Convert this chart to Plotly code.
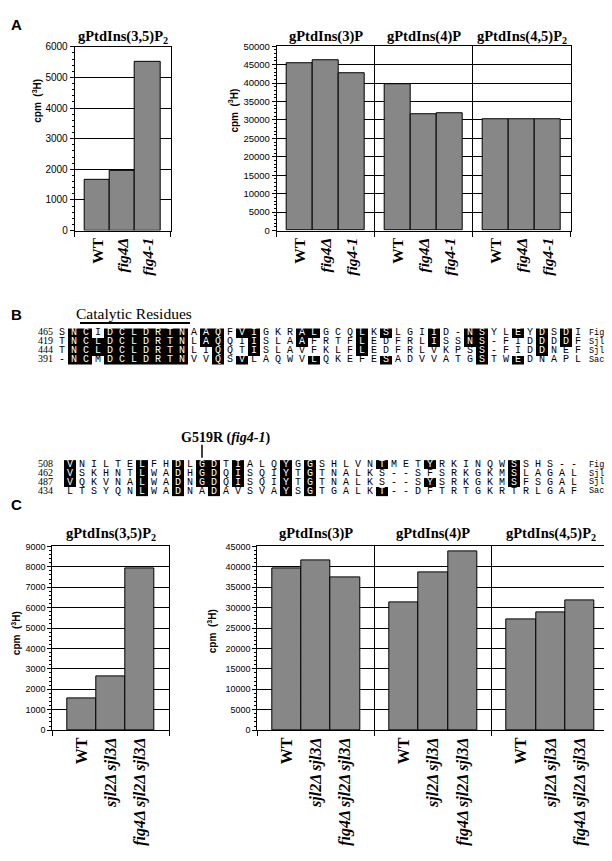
import plotly.graph_objects as go

# page is 612x861; the html body has an 8px margin, so the figure is 604x853
M = 8
W, H = 604, 853

# ---------------- data ----------------
# Panel A
a_strains = ["WT", "fig4Δ", "fig4-1"]
a_pi35p2 = [1650, 1960, 5520]
a_lipids = ["gPtdIns(3)P", "gPtdIns(4)P", "gPtdIns(4,5)P<sub>2</sub>"]
a_pi3p = [45400, 46200, 42800]
a_pi4p = [39700, 31600, 31900]
a_pi45p2 = [30300, 30100, 30100]

# Panel C
c_strains = ["WT", "sjl2Δ sjl3Δ", "fig4Δ sjl2Δ sjl3Δ"]
c_pi35p2 = [1570, 2620, 7900]
c_lipids = ["gPtdIns(3)P", "gPtdIns(4)P", "gPtdIns(4,5)P<sub>2</sub>"]
c_pi3p = [39500, 41500, 37300]
c_pi4p = [31300, 38700, 43700]
c_pi45p2 = [27200, 28900, 31700]

# Panel B (alignment)
seq_names = ["Fig4", "Sjl3", "Sjl2", "Sac1"]
block1_start = [465, 419, 444, 391]
block1_seq = [
    "SNCIDCLDRTNAAQFVIGKRALGCQLKSLGIID-NSYLEYDSDI",
    "TNCLDCLDRTNLAQQIISLAAFRTFLEDFRLISSNS-FIDDDDF",
    "TNCLDCLDRTNLIQQTISLAVFKLFLEDFRLVKPSS-FIDDNEF",
    "-NCMDCLDRTNVVQSVLAQWVLQKEFESADVVATGSTWEDNAPL",
]
block1_hl = [
    [2, 3, 5, 6, 7, 8, 9, 10, 11, 13, 14, 16, 17, 21, 22, 26, 28, 32, 35, 36, 39, 41, 43],
    [2, 3, 4, 5, 6, 7, 8, 9, 10, 11, 13, 14, 17, 21, 26, 32, 35, 36, 41, 43],
    [2, 3, 4, 5, 6, 7, 8, 9, 10, 11, 14, 17, 26, 36, 41],
    [2, 3, 5, 6, 7, 8, 9, 10, 11, 14, 16, 22, 28, 36, 39],
]
block2_start = [508, 462, 487, 434]
block2_seq = [
    "VNILTELFHDLGDTIALQYGGSHLVNTMETYRKINQWSSHS--",
    "VSKHNTLWADHGDQISQIYTGTNALKS--SFSRKGKMSLAGAL",
    "VQKVNALWADNGDQISQIYTGTNALKS--SYSRKGKMSFSGAL",
    "LTSYQNLWADNADAVSVAYSGTGALKT--DFTRTGKRTRLGAF",
]
block2_hl = [
    [1, 7, 10, 12, 13, 15, 19, 21, 27, 31, 38],
    [1, 7, 10, 12, 13, 15, 19, 21, 38],
    [1, 7, 10, 12, 13, 15, 19, 21, 31, 38],
    [7, 10, 13, 19, 21, 27],
]
mutation_col = 12  # G519R column in block 2

# ---------------- layout constants ----------------
BAR_COLOR = "#878787"
SERIF = "Liberation Serif"
SANS = "Liberation Sans"
MONO = "Liberation Mono"


def xd(p0, p1):
    return [(p0 - M) / W, (p1 - M) / W]


def yd(p0, p1):
    return [1 - (p1 - M) / H, 1 - (p0 - M) / H]


def py(p):
    return 1 - (p - M) / H


def px(p):
    return (p - M) / W


def fmt_label(s):
    if s == "WT":
        return "<b>WT</b>"
    return "<b><i>" + s + "</i></b>"


fig = go.Figure()
annotations = []
shapes = []


def add_bar_panel(ax, values_groups, strains, pad, xdom, ydom, ymax, dtick, mdtick,
                  ytick_size, xtick_size):
    ns = len(strains)
    span = ns + 2 * pad
    xs, ys, tv, tt = [], [], [], []
    for g, vals in enumerate(values_groups):
        for i, v in enumerate(vals):
            xs.append(g * span + pad + 0.5 + i)
            ys.append(v)
            tv.append(g * span + pad + 0.5 + i)
            tt.append(fmt_label(strains[i]))
    ng = len(values_groups)
    sfx = "" if ax == 1 else str(ax)
    fig.add_trace(go.Bar(x=xs, y=ys, width=1, marker=dict(color=BAR_COLOR, line=dict(color="black", width=1)),
                         xaxis="x" + sfx, yaxis="y" + sfx, hoverinfo="skip", showlegend=False))
    fig.layout["xaxis" + sfx] = dict(
        domain=xdom, range=[0, ng * span], anchor="y" + sfx, tickmode="array", tickvals=tv, ticktext=tt,
        tickangle=-90, tickfont=dict(family=SERIF, size=xtick_size, color="black"), ticks="",
        showgrid=False, showline=True, mirror=True, linecolor="black", linewidth=1, zeroline=False,
        fixedrange=True,
        minor=dict(tickmode="array", tickvals=[g * span for g in range(ng + 1)], ticks="outside",
                   ticklen=5, tickcolor="black", showgrid=True, gridcolor="black", gridwidth=1),
    )
    fig.layout["yaxis" + sfx] = dict(
        domain=ydom, range=[0, ymax], anchor="x" + sfx, tick0=0, dtick=dtick, ticks="outside", ticklen=4,
        tickcolor="black", showgrid=True, gridcolor="black", gridwidth=1, showline=True, mirror=True,
        linecolor="black", linewidth=1, zeroline=False, fixedrange=True, tickformat="d",
        tickfont=dict(family=SANS, size=ytick_size, color="black"),
        minor=dict(dtick=mdtick, tick0=0, ticks="outside", ticklen=2, tickcolor="black", showgrid=False),
    )
    return span


# Panel A
span_al = add_bar_panel(1, [a_pi35p2], a_strains, 0.41, xd(74.7, 170.5), yd(41.3, 227.7), 6000, 1000, 200,
                        10, 15.5)
span_a = add_bar_panel(2, [a_pi3p, a_pi4p, a_pi45p2], a_strains, 0.4, xd(276.7, 570.7), yd(40.7, 227.7),
                       50000, 5000, 1000, 9.5, 15.5)
# Panel C
span_cl = add_bar_panel(3, [c_pi35p2], c_strains, 0.5, xd(52.3, 169.3), yd(548.0, 734.3), 9000, 1000, 200,
                        9, 16)
span_c = add_bar_panel(4, [c_pi3p, c_pi4p, c_pi45p2], c_strains, 0.5, xd(257.3, 609.3), yd(548.0, 734.3),
                       45000, 5000, 1000, 9, 16)

title_font = dict(family=SERIF, size=14.5, color="black")
annotations.append(dict(text="<b>gPtdIns(3,5)P<sub>2</sub></b>", xref="x", yref="paper", x=span_al / 2,
                        y=py(31), showarrow=False, font=title_font, xanchor="center", yanchor="middle"))
annotations.append(dict(text="<b>gPtdIns(3,5)P<sub>2</sub></b>", xref="x3", yref="paper", x=span_cl / 2,
                        y=py(535), showarrow=False, font=title_font, xanchor="center", yanchor="middle"))
for g, name in enumerate(a_lipids):
    annotations.append(dict(text="<b>" + name + "</b>", xref="x2", yref="paper", x=g * span_a + span_a / 2,
                            y=py(31), showarrow=False, font=title_font, xanchor="center", yanchor="middle"))
for g, name in enumerate(c_lipids):
    annotations.append(dict(text="<b>" + name + "</b>", xref="x4", yref="paper", x=g * span_c + span_c / 2,
                            y=py(535), showarrow=False, font=title_font, xanchor="center", yanchor="middle"))

# y-axis titles
ytitle = "<b>cpm  (<sup>3</sup>H)</b>"
for (xx, yy) in [(37, 96), (233, 106), (16, 636), (212, 634)]:
    annotations.append(dict(text=ytitle, xref="paper", yref="paper", x=px(xx), y=py(yy), textangle=-90,
                            showarrow=False, font=dict(family=SANS, size=10, color="black"),
                            xanchor="center", yanchor="middle"))

# panel letters
for (lab, xx, yy) in [("A", 16, 19), ("B", 16, 313), ("C", 16, 506)]:
    annotations.append(dict(text="<b>" + lab + "</b>", xref="paper", yref="paper", x=px(xx), y=py(yy),
                            showarrow=False, font=dict(family=SANS, size=15, color="black"),
                            xanchor="center", yanchor="middle"))

# ---------------- Panel B: alignment ----------------
PITCH = 12
B1_X0, B2_X0 = 62, 70
B1_Y = [331.5, 340.5, 349.5, 358.5]
B2_Y = [465, 474, 483, 492]
NUM_X, NAME_X = 53, 589


def add_block(seqs, hls, starts, x0, rows):
    ncol = len(seqs[0])
    colx = [x0 + c * PITCH for c in range(ncol)]
    z = []
    tx, ty, tt, tc = [], [], [], []
    for r, s in enumerate(seqs):
        zr = []
        for c, ch in enumerate(s):
            on = (c + 1) in hls[r]
            zr.append(1 if on else None)
            tx.append(colx[c])
            ty.append(rows[r])
            tt.append(ch)
            tc.append("white" if on else "black")
        z.append(zr)
    fig.add_trace(go.Heatmap(x=colx, y=rows, z=z, zmin=0, zmax=1, colorscale=[[0, "black"], [1, "black"]],
                             showscale=False, xaxis="x5", yaxis="y5", hoverinfo="skip"))
    fig.add_trace(go.Scatter(x=tx, y=ty, text=tt, mode="text", textposition="middle center",
                             textfont=dict(family=MONO, size=10, color=tc), xaxis="x5", yaxis="y5",
                             hoverinfo="skip", showlegend=False, cliponaxis=False))
    fig.add_trace(go.Scatter(x=[NUM_X] * len(rows), y=rows, text=[str(s) for s in starts], mode="text",
                             textposition="middle left", textfont=dict(family=SERIF, size=10, color="black"),
                             xaxis="x5", yaxis="y5", hoverinfo="skip", showlegend=False, cliponaxis=False))
    fig.add_trace(go.Scatter(x=[NAME_X] * len(rows), y=rows, text=seq_names, mode="text",
                             textposition="middle right", textfont=dict(family=MONO, size=8.5, color="black"),
                             xaxis="x5", yaxis="y5", hoverinfo="skip", showlegend=False, cliponaxis=False))
    return colx


add_block(block1_seq, block1_hl, block1_start, B1_X0, B1_Y)
colx2 = add_block(block2_seq, block2_hl, block2_start, B2_X0, B2_Y)

# alignment axes: data units are page pixels
fig.layout.xaxis5 = dict(domain=[0, 1], range=[M, M + W], visible=False, fixedrange=True, anchor="y5")
fig.layout.yaxis5 = dict(domain=[0, 1], range=[M + H, M], visible=False, fixedrange=True, anchor="x5")

annotations.append(dict(text="Catalytic Residues", xref="x5", yref="y5", x=134, y=312, showarrow=False,
                        font=dict(family=SERIF, size=15.5, color="black"), xanchor="center", yanchor="middle"))
shapes.append(dict(type="line", xref="x5", yref="y5", x0=80, x1=190, y0=321.5, y1=321.5,
                   line=dict(color="black", width=2)))
gx = colx2[mutation_col - 1]
annotations.append(dict(text="<b>G519R (<i>fig4-1</i>)</b>", xref="x5", yref="y5", x=gx + 23, y=438,
                        showarrow=False, font=dict(family=SERIF, size=14, color="black"),
                        xanchor="center", yanchor="middle"))
shapes.append(dict(type="line", xref="x5", yref="y5", x0=gx, x1=gx, y0=445, y1=458,
                   line=dict(color="black", width=1.5)))

fig.update_layout(width=W, height=H, margin=dict(l=0, r=0, t=0, b=0), paper_bgcolor="white",
                  plot_bgcolor="rgba(0,0,0,0)", showlegend=False, annotations=annotations, shapes=shapes,
                  bargap=0)
fig.write_html("out.html")
